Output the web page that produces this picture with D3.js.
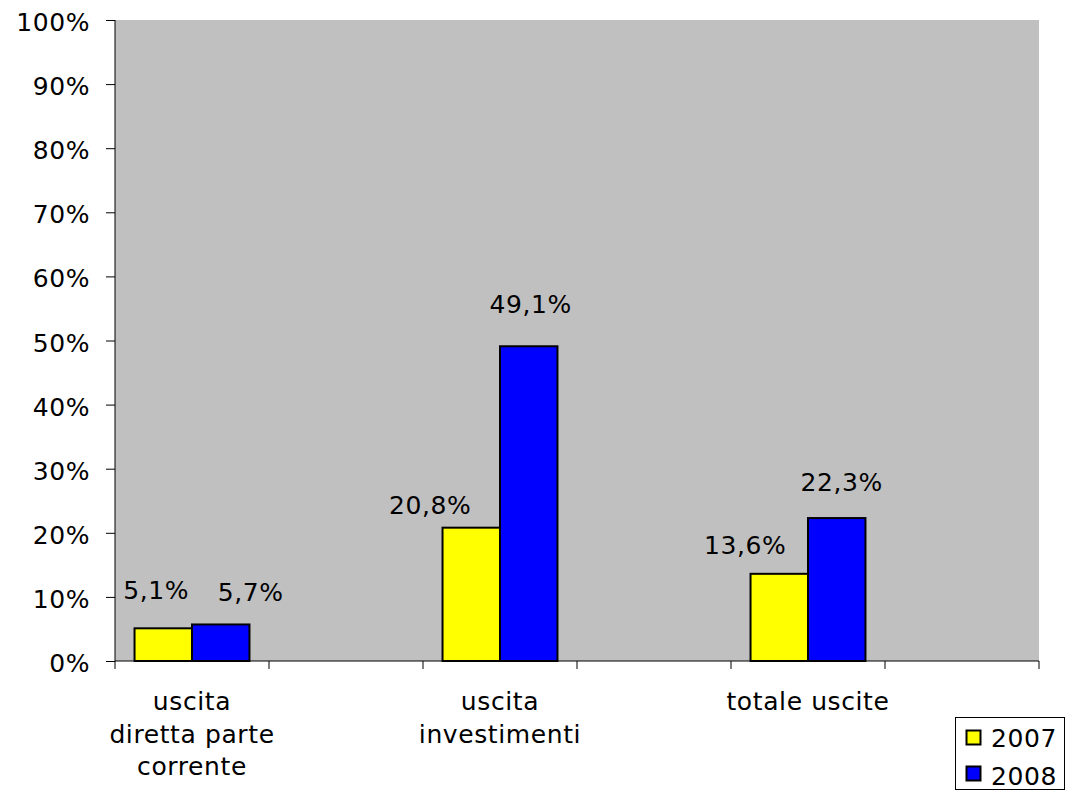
<!DOCTYPE html>
<html><head><meta charset="utf-8">
<script src="https://cdn.jsdelivr.net/npm/d3@7"></script>
<style>body{margin:0;background:#fff}svg{display:block}text{font-family:"DejaVu Sans",Verdana,sans-serif;fill:#000;font-size:25px;letter-spacing:0.6px}</style>
</head><body><svg id="c" width="1066" height="791"></svg>
<script>
const categories = [["uscita","diretta parte","corrente"], [], ["uscita","investimenti"], [], ["totale uscite"], []];
const series = ["2007","2008"];
const values2007 = [5.1, null, 20.8, null, 13.6, null];
const values2008 = [5.7, null, 49.1, null, 22.3, null];
const labels2007 = ["5,1%", "", "20,8%", "", "13,6%", ""];
const labels2008 = ["5,7%", "", "49,1%", "", "22,3%", ""];
const yTicks = [0,10,20,30,40,50,60,70,80,90,100];
const colors = ["#FFFF00","#0000FF"];

// label placement tweaks (layout only): [dx, dy-above-bar-top] per series, per category
const labelPos = [
  [[-7,29],null,[-41,14],null,[-34,20],null],
  [[30,23],null,[2,33],null,[5,27],null]
];

const svg = d3.select("#c");
const L=115, R=1039, T=20, B=661;
const x = d3.scaleBand().domain(d3.range(categories.length)).range([L,R]).paddingInner(0).paddingOuter(0);
const y = d3.scaleLinear().domain([0,100]).range([B,T]);
const xs = d3.scaleBand().domain(series).range([0,x.bandwidth()]).paddingInner(0).paddingOuter(0.34);

svg.append("rect").attr("x",L).attr("y",T).attr("width",R-L).attr("height",B-T).attr("fill","#C0C0C0");

// y axis
const ya = svg.append("g").attr("transform",`translate(${L},0)`)
  .call(d3.axisLeft(y).tickValues(yTicks).tickFormat(d=>d+"%").tickSize(9).tickPadding(16));
ya.select(".domain").attr("stroke","#000").attr("d",`M0,${T}V${B}`);
ya.selectAll("text").attr("dy","0.42em").style("font-size","25px").style("font-family",null);

// x axis
const xa = svg.append("g").attr("transform",`translate(0,${B})`);
xa.append("line").attr("x1",L).attr("x2",R).attr("stroke","#000");
const edges = d3.range(categories.length+1).map(i => i<categories.length ? x(i) : x(i-1)+x.bandwidth());
xa.selectAll("line.tk").data(edges).join("line").attr("class","tk")
  .attr("x1",d=>d).attr("x2",d=>d).attr("y1",0).attr("y2",8).attr("stroke","#000");
categories.forEach((lines,i)=>{
  const t = xa.append("text").attr("text-anchor","middle");
  lines.forEach((s,j)=>t.append("tspan").attr("x",x(i)+x.bandwidth()/2).attr("y",49+j*32.5).text(s));
});

const data = [values2007, values2008];
const labs = [labels2007, labels2008];
series.forEach((s,si)=>{
  const g = svg.append("g");
  data[si].forEach((v,i)=>{
    if(v==null) return;
    g.append("rect").attr("x",x(i)+xs(s)).attr("y",y(v)).attr("width",xs.bandwidth()).attr("height",y(0)-y(v))
      .attr("fill",colors[si]).attr("stroke","#000").attr("stroke-width",2);
    const p = labelPos[si][i];
    g.append("text").attr("x",x(i)+xs(s)+xs.bandwidth()/2+p[0])
      .attr("y",y(v)-p[1]).attr("text-anchor","middle").text(labs[si][i]);
  });
});

// legend
const lg = svg.append("g");
lg.append("rect").attr("x",955.5).attr("y",717.5).attr("width",109).attr("height",72).attr("fill","#fff").attr("stroke","#000");
series.forEach((s,si)=>{
  lg.append("rect").attr("x",966.5).attr("y",730.5+si*36).attr("width",14).attr("height",14).attr("fill",colors[si]).attr("stroke","#000").attr("stroke-width",2);
  lg.append("text").attr("x",991).attr("y",747+si*38).text(s);
});
</script></body></html>
